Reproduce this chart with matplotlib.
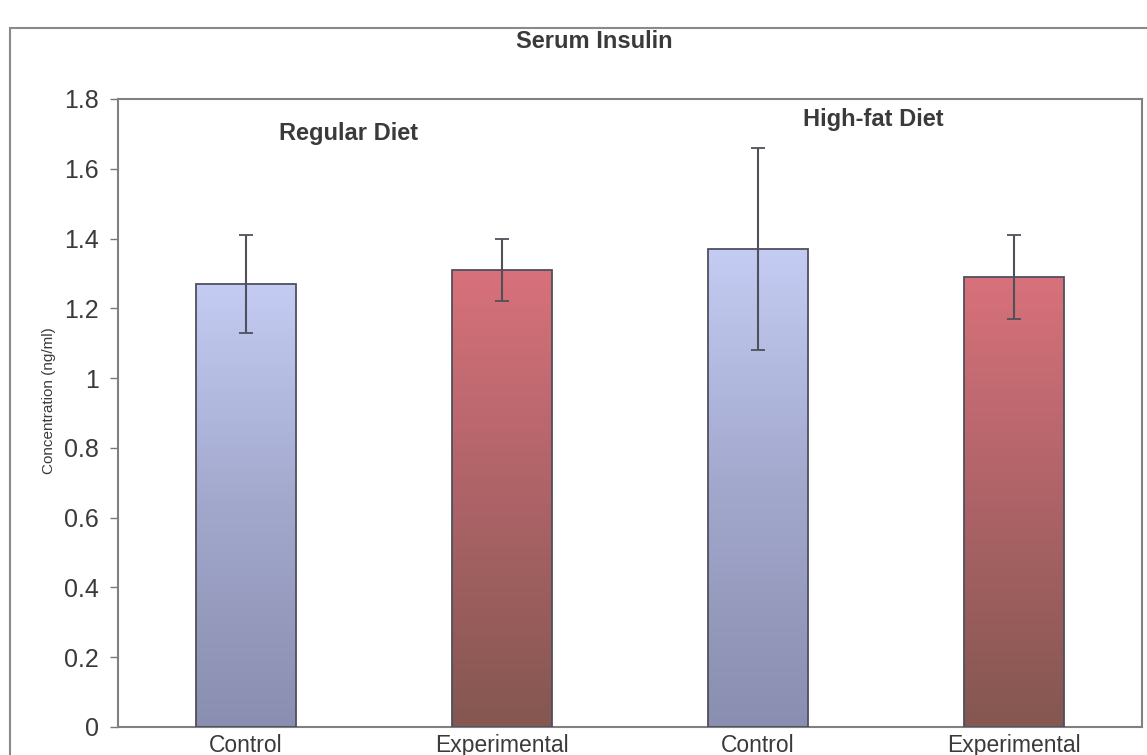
import numpy as np
import matplotlib
matplotlib.use("Agg")
import matplotlib.pyplot as plt
from matplotlib.colors import LinearSegmentedColormap
from matplotlib.patches import Rectangle

plt.rcParams['font.family'] = ['Liberation Sans', 'DejaVu Sans']

categories = ["Control", "Experimental", "Control", "Experimental"]
values = [1.27, 1.31, 1.37, 1.29]
errors = [0.14, 0.09, 0.29, 0.12]
groups = ["Regular Diet", "High-fat Diet"]
yticks = [0, 0.2, 0.4, 0.6, 0.8, 1, 1.2, 1.4, 1.6, 1.8]
ytick_labels = ["0", "0.2", "0.4", "0.6", "0.8", "1", "1.2", "1.4", "1.6", "1.8"]

fig = plt.figure(figsize=(11.47, 7.55), dpi=100)
# outer chart frame
fig.patches.append(Rectangle((10/1147, -0.01), 1.2, 1 - 28/755 + 0.01, transform=fig.transFigure,
                             fill=False, edgecolor="#8a8a8a", linewidth=1.5))
ax = fig.add_axes([118/1147, 1 - 727/755, (1142 - 118)/1147, (727 - 99)/755])

x = np.arange(len(categories)) + 0.5
cmap_ctrl = LinearSegmentedColormap.from_list("c", ["#8a8eb0", "#a2a8cc", "#c4ccf3"])
cmap_exp = LinearSegmentedColormap.from_list("e", ["#845750", "#ad6367", "#d8717b"])
cmaps = [cmap_ctrl, cmap_exp, cmap_ctrl, cmap_exp]

bars = ax.bar(x, values, width=0.39, color="none", edgecolor="#4f4f5e", linewidth=1.3, zorder=3)
grad = np.linspace(0, 1, 256).reshape(-1, 1)
for b, cm in zip(bars, cmaps):
    bx, by = b.get_x(), b.get_y()
    w, h = b.get_width(), b.get_height()
    im = ax.imshow(grad, cmap=cm, origin="lower", aspect="auto",
                   extent=[bx, bx + w, by, by + h], zorder=2)
    im.set_clip_path(b)

ax.errorbar(x, values, yerr=errors, fmt="none", ecolor="#50505a", elinewidth=1.5,
            capsize=5, capthick=1.3, zorder=4)

ax.set_xlim(0, 4)
ax.set_ylim(0, 1.8)
ax.set_yticks(yticks)
ax.set_yticklabels(ytick_labels, fontsize=18, color="#3a3a3a")
ax.set_xticks(x)
ax.set_xticklabels(categories, fontsize=16.5, color="#3a3a3a")
ax.tick_params(axis="x", length=0, pad=5)
ax.tick_params(axis="y", length=6, width=1, color="#777777", pad=8, direction="out")
for s in ax.spines.values():
    s.set_color("#808080")
    s.set_linewidth(1.5)

ax.set_ylabel("Concentration (ng/ml)", fontsize=11, color="#3a3a3a")
ax.yaxis.set_label_coords(-0.061, 0.52)

ax.text(0.9, 1.7, groups[0], fontsize=17, fontweight="bold", color="#3a3a3a", ha="center", va="center")
ax.text(2.95, 1.74, groups[1], fontsize=17, fontweight="bold", color="#3a3a3a", ha="center", va="center")
fig.text(594/1147, 1 - 42/755, "Serum Insulin", fontsize=17, fontweight="bold", color="#3a3a3a",
         ha="center", va="center")

fig.savefig("out.png", dpi=100, facecolor="white")
